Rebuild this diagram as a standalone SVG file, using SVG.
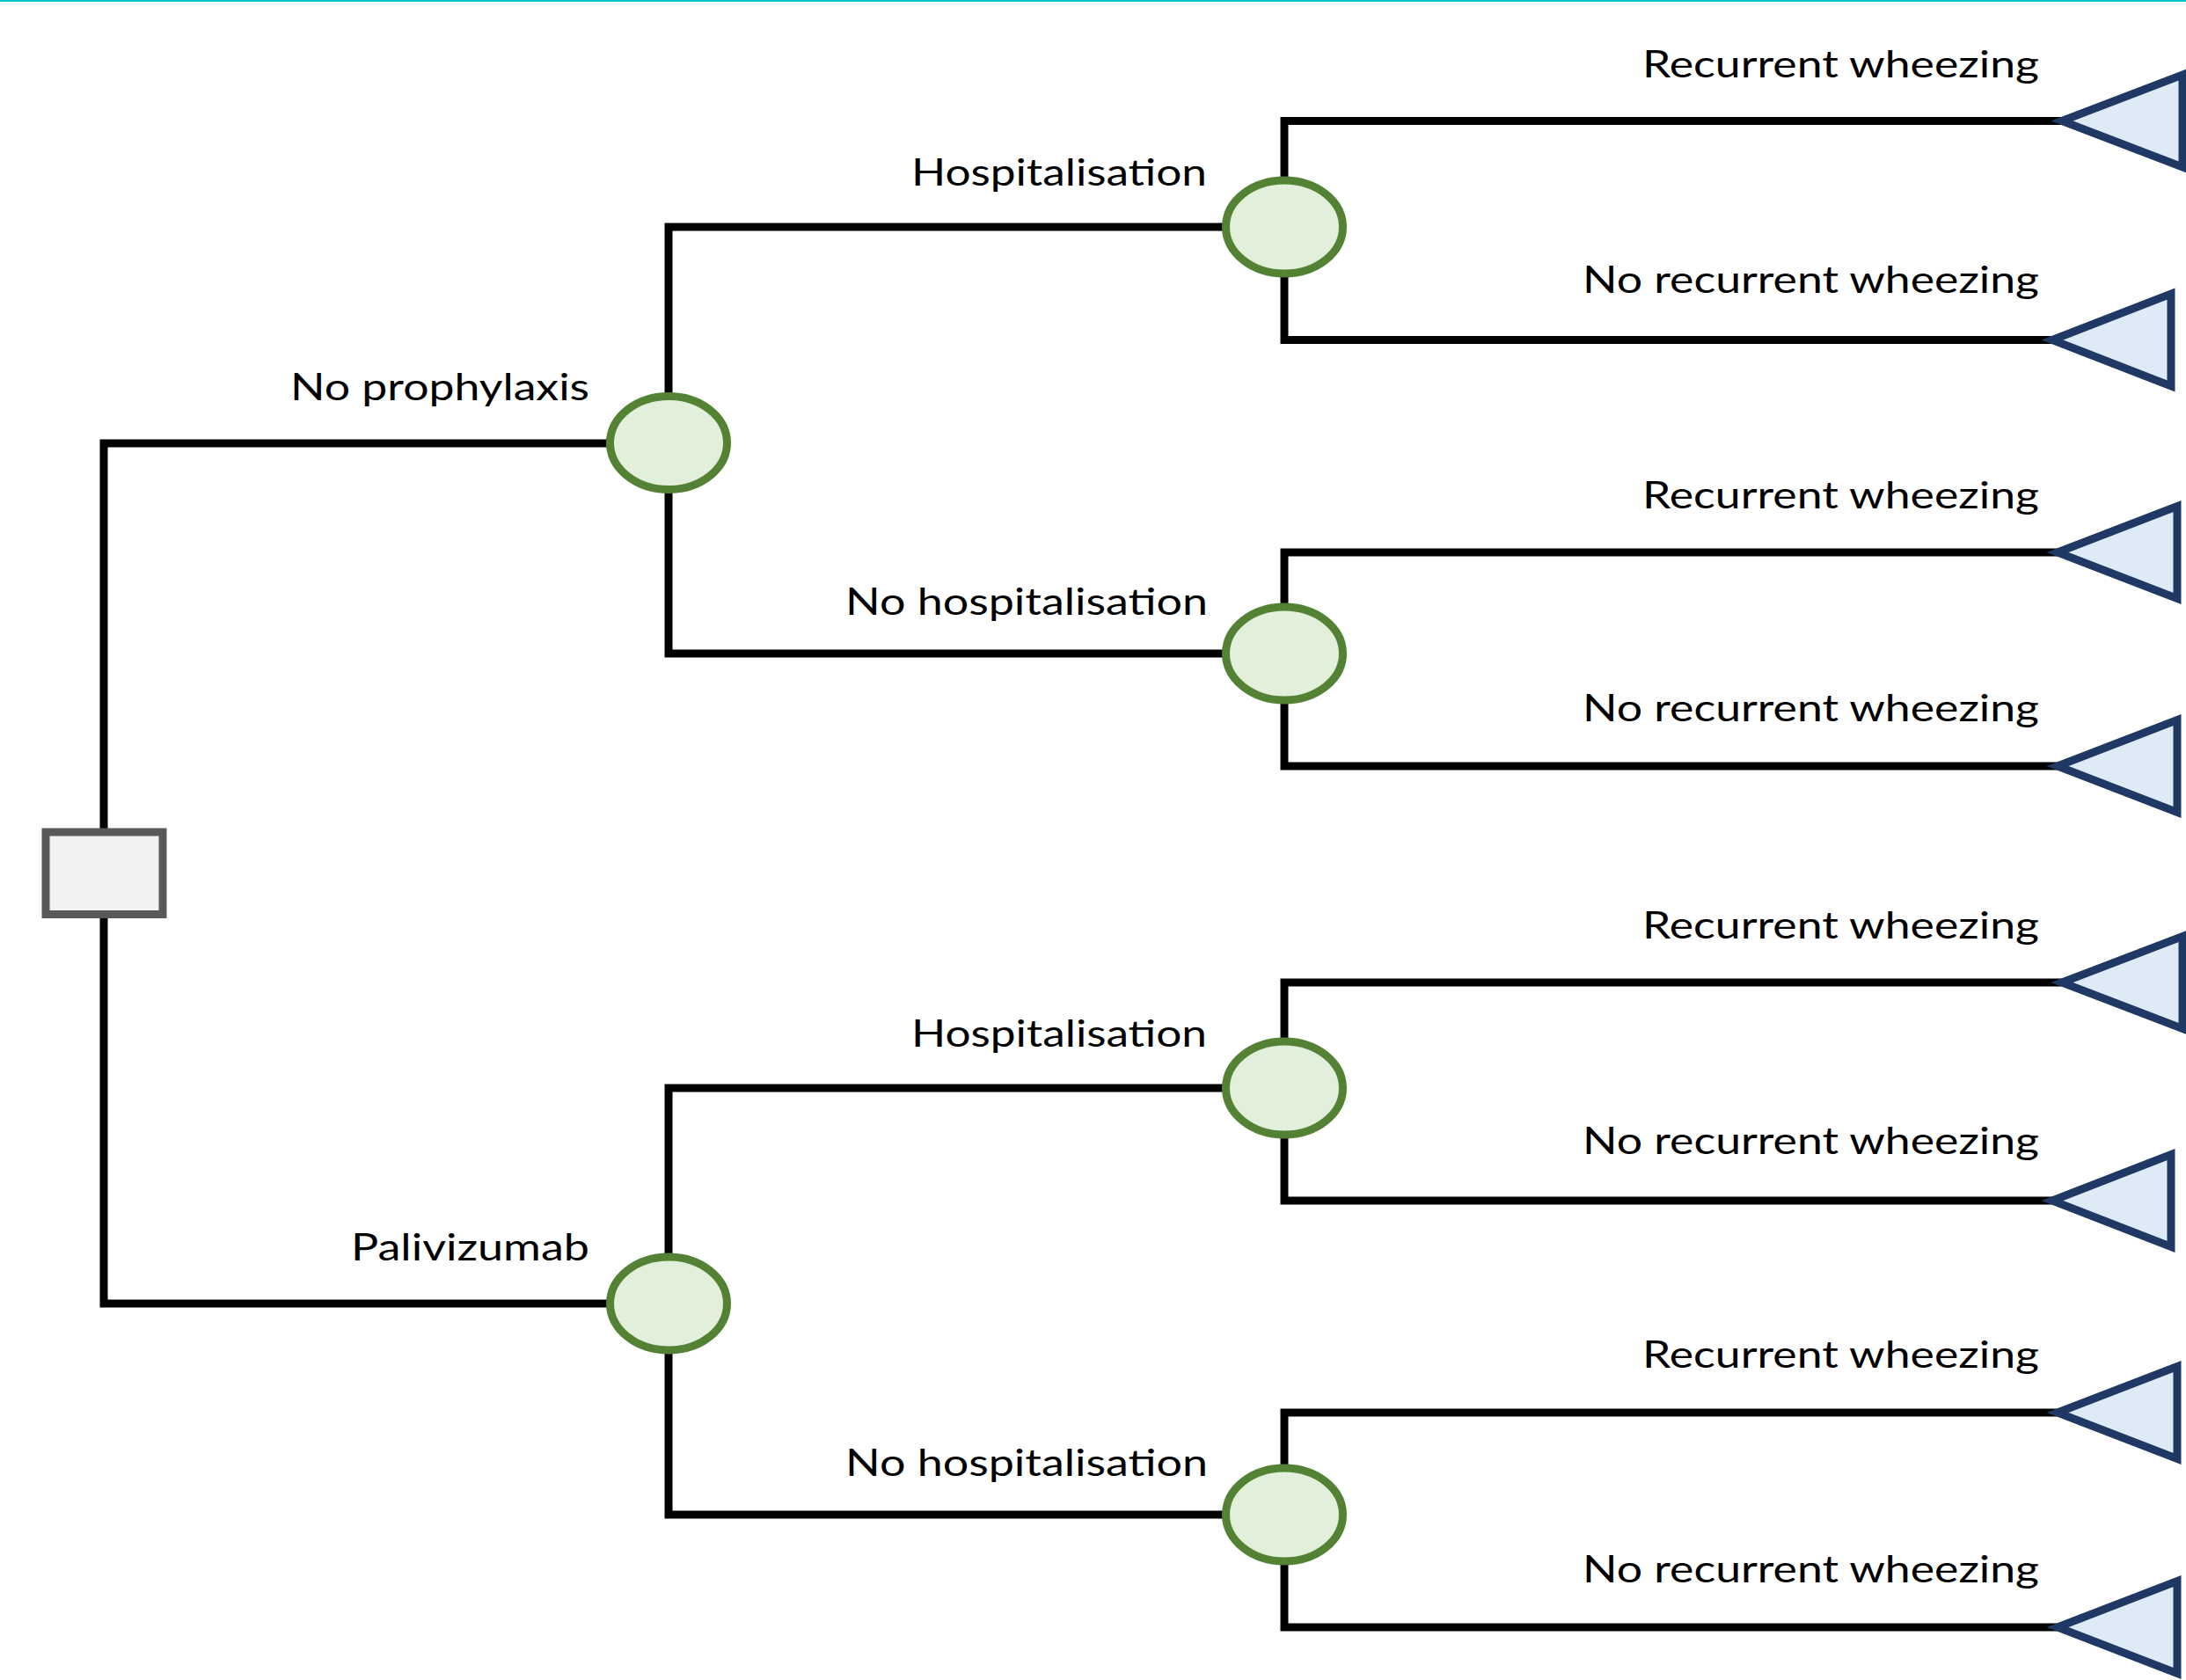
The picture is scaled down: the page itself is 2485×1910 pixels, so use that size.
<svg xmlns="http://www.w3.org/2000/svg" width="2485" height="1910" viewBox="0 0 2485 1910">
<style>
.bg{fill:#ffffff}
.conn{fill:none;stroke:#000000;stroke-width:9;stroke-linejoin:miter;stroke-linecap:butt}
.decision{fill:#f2f2f2;stroke:#595959;stroke-width:9}
.chance{fill:#e2efda;stroke:#548235;stroke-width:9}
.terminal{fill:#deebf7;stroke:#1f3864;stroke-width:9;stroke-linejoin:miter}
.lbl{font-family:Lato,"Open Sans","Liberation Sans",sans-serif;font-size:43px;fill:#000000;text-anchor:end}
</style>
<rect class="bg" x="0" y="0" width="2485" height="1910"/>
<rect x="0" y="0" width="2485" height="7" fill="#f3f9fc"/>
<rect x="0" y="0" width="2485" height="2" fill="#00c4cc"/>

<g id="connectors">
  <path class="conn" d="M118,942 V504 H760"/>
  <path class="conn" d="M118,1044 V1482 H760"/>
  <path class="conn" d="M760,504 V258 H1460"/>
  <path class="conn" d="M760,504 V743 H1460"/>
  <path class="conn" d="M760,1482 V1237 H1460"/>
  <path class="conn" d="M760,1482 V1722 H1460"/>
  <path class="conn" d="M1460,258 V137.5 H2344"/>
  <path class="conn" d="M1460,258 V386.5 H2333"/>
  <path class="conn" d="M1460,743 V628 H2339"/>
  <path class="conn" d="M1460,743 V871 H2339"/>
  <path class="conn" d="M1460,1237 V1117 H2344"/>
  <path class="conn" d="M1460,1237 V1365 H2333"/>
  <path class="conn" d="M1460,1722 V1606 H2339"/>
  <path class="conn" d="M1460,1722 V1850 H2339"/>
</g>

<g id="labels">
  <text class="lbl" x="670" y="455" textLength="340" lengthAdjust="spacingAndGlyphs">No prophylaxis</text>
  <text class="lbl" x="670" y="1433" textLength="271" lengthAdjust="spacingAndGlyphs">Palivizumab</text>
  <text class="lbl" x="1372" y="211" textLength="336" lengthAdjust="spacingAndGlyphs">Hospitalisation</text>
  <text class="lbl" x="1373" y="699" textLength="412" lengthAdjust="spacingAndGlyphs">No hospitalisation</text>
  <text class="lbl" x="1372" y="1190" textLength="336" lengthAdjust="spacingAndGlyphs">Hospitalisation</text>
  <text class="lbl" x="1373" y="1678" textLength="412" lengthAdjust="spacingAndGlyphs">No hospitalisation</text>
  <text class="lbl" x="2318" y="88" textLength="451" lengthAdjust="spacingAndGlyphs">Recurrent wheezing</text>
  <text class="lbl" x="2318" y="333" textLength="519" lengthAdjust="spacingAndGlyphs">No recurrent wheezing</text>
  <text class="lbl" x="2318" y="578" textLength="451" lengthAdjust="spacingAndGlyphs">Recurrent wheezing</text>
  <text class="lbl" x="2318" y="820" textLength="519" lengthAdjust="spacingAndGlyphs">No recurrent wheezing</text>
  <text class="lbl" x="2318" y="1067" textLength="451" lengthAdjust="spacingAndGlyphs">Recurrent wheezing</text>
  <text class="lbl" x="2318" y="1312" textLength="519" lengthAdjust="spacingAndGlyphs">No recurrent wheezing</text>
  <text class="lbl" x="2318" y="1555" textLength="451" lengthAdjust="spacingAndGlyphs">Recurrent wheezing</text>
  <text class="lbl" x="2318" y="1799" textLength="519" lengthAdjust="spacingAndGlyphs">No recurrent wheezing</text>
</g>

<g id="decision-node"><rect class="decision" x="52" y="946" width="133" height="93.5"/></g>

<g id="chance-no-prophylaxis"><ellipse class="chance" cx="760" cy="503.5" rx="66.5" ry="53"/></g>
<g id="chance-palivizumab"><ellipse class="chance" cx="760" cy="1482" rx="66.5" ry="53"/></g>
<g id="chance-np-hosp"><ellipse class="chance" cx="1460" cy="258" rx="66.5" ry="53"/></g>
<g id="chance-np-nohosp"><ellipse class="chance" cx="1460" cy="743" rx="66.5" ry="53"/></g>
<g id="chance-pal-hosp"><ellipse class="chance" cx="1460" cy="1237" rx="66.5" ry="53"/></g>
<g id="chance-pal-nohosp"><ellipse class="chance" cx="1460" cy="1722" rx="66.5" ry="53"/></g>

<g id="terminal-1"><polygon class="terminal" points="2344,137.5 2481,85 2481,190"/></g>
<g id="terminal-2"><polygon class="terminal" points="2333,386.5 2468,334 2468,439"/></g>
<g id="terminal-3"><polygon class="terminal" points="2339,628 2475,575.5 2475,680.5"/></g>
<g id="terminal-4"><polygon class="terminal" points="2339,871 2475,818.5 2475,923.5"/></g>
<g id="terminal-5"><polygon class="terminal" points="2344,1117 2481,1064.5 2481,1169.5"/></g>
<g id="terminal-6"><polygon class="terminal" points="2333,1365 2468,1312.5 2468,1417.5"/></g>
<g id="terminal-7"><polygon class="terminal" points="2339,1606 2475,1553.5 2475,1658.5"/></g>
<g id="terminal-8"><polygon class="terminal" points="2339,1850 2475,1797.5 2475,1902.5"/></g>
</svg>
